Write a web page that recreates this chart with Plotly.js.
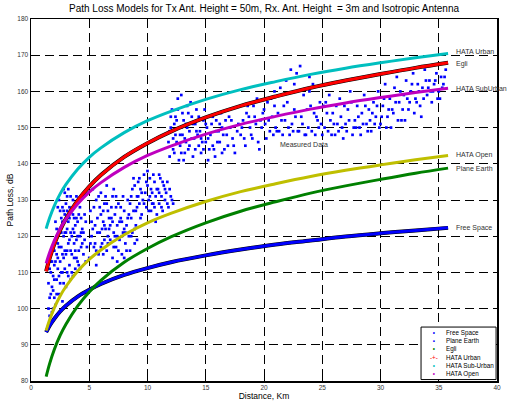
<!DOCTYPE html>
<html>
<head>
<meta charset="utf-8">
<script src="https://cdn.plot.ly/plotly-3.0.1.min.js"></script>
<style>
html,body{margin:0;padding:0;background:#fff;}
#chart{width:510px;height:401px;}
</style>
</head>
<body>
<div id="chart"></div>
<script>
// ---- model curves (distance in km, path loss in dB) ----
var distGrid   = [1.3,1.6,2,2.5,3,4,5,6,8,10,12,15,18,21,24,27,30,33,35.8];
var hataUrban  = [122.1,125.1,128.4,131.7,134.3,138.5,141.8,144.4,148.6,151.9,154.5,157.8,160.5,162.7,164.7,166.4,167.9,169.3,170.5];
var egli       = [110.3,113.9,117.8,121.7,124.8,129.8,133.7,136.9,141.9,145.7,148.9,152.8,156.0,158.6,161.0,163.0,164.8,166.5,167.9];
var hataSub    = [112.5,115.5,118.8,122.1,124.7,128.9,132.2,134.8,139.0,142.3,144.9,148.2,150.9,153.1,155.1,156.8,158.3,159.7,160.9];
var hataOpen   = [93.9,96.9,100.2,103.5,106.1,110.3,113.6,116.2,120.4,123.7,126.3,129.6,132.3,134.5,136.5,138.2,139.7,141.1,142.3];
var planeEarth = [81.2,84.8,88.7,92.6,95.7,100.7,104.6,107.8,112.8,116.6,119.8,123.7,126.9,129.5,131.9,133.9,135.7,137.4,138.8];
var freeSpace  = [93.5,95.3,97.2,99.2,100.8,103.3,105.2,106.8,109.3,111.2,112.8,114.7,116.3,117.7,118.8,119.9,120.8,121.6,122.3];

// ---- measured data, read as clusters of [distance, loss] ----
var measuredNear = [[1.5,100],[1.6,103],[1.5,107],[1.7,110],[1.8,99],[1.9,105],[2.0,112],[1.7,113],[2.1,101],[2.2,108],
 [2.3,118],[2.0,116],[2.4,104],[2.5,113],[2.6,125],[2.3,128],[2.7,110],[2.8,120],[2.9,132],[2.8,133],
 [3.0,106],[3.1,116],[3.2,124],[3.0,129],[3.3,112],[3.4,121],[3.5,127],[3.2,133],[3.6,109],[3.7,118],
 [3.8,123],[3.6,130],[3.9,114],[4.0,120],[4.1,126],[3.9,131],[4.2,111],[4.3,117],[4.4,122],[4.2,128],
 [4.5,115],[4.6,119],[4.7,124],[4.8,117],[2.2,115],[2.5,122],[2.8,114],[3.1,127],[3.4,108],[3.7,125],
 [4.0,113],[2.1,124],[2.4,130],[1.9,109],[2.7,102],[3.3,119],[3.5,115],[3.8,111],[4.4,118],[2.9,126],
 [3.0,121],[2.6,117],[3.6,122],[4.1,116],[2.3,111],[1.8,106],[2.0,103],[2.5,107],[3.2,118],[3.9,125],
 [2.7,128],[3.4,131],[4.3,121],[2.1,113],[1.6,98],[2.4,121],[3.1,110],[3.7,114],[4.6,126],[2.9,116],
 [1.6,111],[1.7,104],[1.8,113],[1.9,100],[2.0,108],[2.1,119],[2.2,104],[2.2,122],[2.3,114],[2.4,109],
 [2.4,117],[2.5,127],[2.6,110],[2.6,121],[2.7,115],[2.7,124],[2.8,107],[2.8,127],[2.9,111],[2.9,121],
 [3.0,115],[3.1,122],[3.1,131],[3.2,109],[3.3,125],[3.3,128],[3.4,116],[3.5,120],[3.5,110],[3.6,126],
 [3.7,121],[3.8,116],[3.8,129],[3.9,119],[4.0,124],[4.1,112],[4.2,120],[4.3,125],[4.5,121],[4.7,113]];
var measuredMid = [[5.0,114],[5.2,120],[5.1,127],[5.4,117],[5.5,123],[5.6,130],[5.3,133],[5.8,115],[5.9,121],[6.0,126],
 [6.1,118],[6.2,124],[6.3,129],[6.0,132],[6.5,116],[6.6,120],[6.7,125],[6.4,122],[6.8,119],[6.9,128],
 [7.0,114],[7.1,121],[7.2,126],[7.0,131],[7.3,117],[7.4,123],[7.5,129],[7.6,119],[7.7,125],[7.8,115],
 [7.9,121],[8.0,127],[8.1,118],[8.2,123],[8.3,130],[8.4,120],[8.5,116],[8.6,125],[8.7,121],[8.9,118],
 [9.0,123],[5.7,125],[6.3,119],[6.8,123],[7.3,128],[7.8,120],[8.3,125],[5.5,118],[6.1,122],[6.6,127],
 [7.1,117],[7.6,124],[8.0,122],[5.9,128],[6.9,125],[7.4,120],[5.2,124],[6.4,131],[7.9,131],[8.8,127],
 [5.1,118],[5.3,122],[5.4,128],[5.6,116],[5.7,121],[5.8,131],[6.0,117],[6.2,127],[6.3,123],[6.5,129],
 [6.6,118],[6.7,122],[7.0,124],[7.2,120],[7.3,131],[7.5,116],[7.7,128],[7.8,124],[8.1,121],[8.2,116],
 [8.4,126],[8.6,120],[6.5,134],[7.1,133],[5.6,112],[6.2,115],[7.4,113],[8.0,114],[8.9,122],[9.1,119]];
var measuredFar = [[8.5,129],[8.7,133],[8.8,136],[9.0,127],[9.1,131],[9.2,135],[9.3,129],[9.4,133],[9.5,126],[9.6,130],
 [9.7,137],[9.8,132],[9.9,128],[10.0,134],[10.1,130],[10.2,136],[10.3,127],[10.4,132],[10.5,129],[10.6,135],
 [10.7,131],[10.8,126],[10.9,133],[11.0,129],[11.1,136],[11.2,131],[11.3,127],[11.4,134],[11.5,130],[11.6,132],
 [11.8,128],[12.0,131],[12.2,129],[9.4,125],[10.0,138],[10.7,124],[11.0,137],[9.2,131],[10.4,129],[11.7,135],
 [8.6,131],[8.9,134],[9.1,128],[9.3,136],[9.5,132],[9.7,129],[9.9,135],[10.1,127],[10.3,133],[10.5,137],
 [10.6,128],[10.8,133],[11.0,132],[11.2,128],[11.3,135],[11.5,133],[11.7,129],[11.9,133],[12.1,130],[10.2,131]];
var measuredUpper = [[11.8,146],[12.0,150],[12.1,155],[12.3,143],[12.4,148],[12.5,152],[12.6,158],[12.8,145],[12.9,150],[13.0,154],
 [13.1,141],[13.2,147],[13.3,151],[13.4,156],[13.5,144],[13.6,149],[13.8,153],[13.9,142],[14.0,147],[14.1,151],
 [14.2,155],[14.4,145],[14.5,149],[14.6,143],[14.8,152],[15.0,146],[15.1,150],[15.2,141],[15.4,148],[15.6,153],
 [15.7,144],[15.9,149],[16.0,146],[16.2,151],[16.4,143],[16.5,148],[16.7,152],[16.9,145],[17.1,150],[17.3,147],
 [17.5,143],[17.7,149],[12.2,147],[12.7,141],[13.6,145],[14.3,148],[15.3,144],[16.1,149],[17.0,153],[12.9,159],
 [13.7,157],[12.4,153],[13.2,143],[14.7,146],[15.8,142],[16.6,144],[11.9,142],[13.0,148],[14.9,155],[16.3,154],
 [11.9,149],[12.0,153],[12.2,144],[12.3,151],[12.5,146],[12.6,155],[12.8,148],[12.9,143],[13.1,152],[13.3,146],
 [13.4,150],[13.5,154],[13.8,147],[13.9,151],[14.1,144],[14.2,149],[14.4,153],[14.6,147],[14.8,144],[15.0,151],
 [15.2,147],[15.5,151],[15.6,145],[15.9,152],[16.2,146],[16.4,150],[16.8,148],[17.2,152],[17.4,145],[17.8,151]];
var measuredBand = [[18.0,148],[18.2,152],[18.4,145],[18.6,156],[18.8,150],[19.0,147],[19.2,153],[19.4,158],[19.6,144],[19.8,150],
 [20.0,155],[20.2,147],[20.4,152],[20.6,158],[20.8,148],[21.0,150],[21.2,154],[21.4,161],[21.6,148],[21.8,152],
 [22.0,157],[22.2,148],[22.4,151],[22.6,155],[22.8,165],[23.0,149],[23.2,153],[23.4,159],[23.6,148],[23.8,150],
 [24.0,156],[24.2,162],[24.4,148],[24.6,152],[24.8,157],[25.0,148],[25.2,150],[25.4,154],[25.6,159],[25.8,148],
 [26.0,151],[26.2,156],[26.4,149],[26.6,153],[26.8,147],[27.0,151],[27.2,155],[27.4,160],[27.6,148],[27.8,152],
 [28.0,156],[28.2,150],[28.4,154],[28.6,159],[28.8,151],[29.0,155],[29.2,149],[29.4,157],[29.6,153],[29.8,160],
 [30.0,151],[30.2,156],[30.4,162],[30.6,153],[30.8,158],[31.0,155],[31.2,161],[31.4,164],[31.6,157],[31.8,152],
 [32.0,159],[32.2,163],[32.4,155],[32.6,160],[32.8,165],[33.0,158],[33.2,162],[33.4,156],[33.6,161],[33.8,166],
 [34.0,159],[34.2,163],[34.4,157],[34.6,162],[34.8,165],[35.0,160],[35.2,164],[35.4,162],[35.6,166],[22.3,166],
 [23.1,167],[21.9,163],[19.1,156],[20.5,149],[24.9,151],[26.5,158],[29.1,152],[32.9,154],[34.1,161],[27.1,149],
 [18.5,154],[21.3,149],[23.5,148],[25.7,152],[28.3,148],[30.9,150],[33.5,153],[35.1,158],[19.7,152],[20.9,156],
 [22.5,149],[24.3,154],[26.1,148],[27.9,150],[29.5,151],[31.1,154],[32.5,157],[34.5,160],[26.9,156],[25.3,157],
 [18.1,150],[18.3,147],[18.7,153],[18.9,148],[19.3,151],[19.5,146],[19.9,154],[20.1,151],[20.3,157],[20.7,153],
 [21.1,149],[21.5,152],[21.7,156],[22.1,150],[22.7,153],[22.9,149],[23.3,151],[23.7,155],[23.9,160],[24.1,149],
 [24.5,153],[24.7,150],[25.1,156],[25.5,149],[25.9,154],[26.3,151],[26.7,150],[27.3,152],[27.5,157],[27.7,150],
 [28.1,153],[28.5,151],[28.7,156],[28.9,149],[29.3,154],[29.7,156],[29.9,150],[30.1,153],[30.3,158],[30.5,150],
 [30.7,155],[31.3,157],[31.5,152],[31.7,160],[31.9,155],[32.1,152],[32.3,158],[32.7,162],[33.1,157],[33.3,160],
 [33.7,158],[33.9,163],[34.3,160],[34.7,163],[34.9,158],[35.3,161],[35.5,164],[23.9,164],[22.6,162],[20.9,160]];

// ---- legend and label texts ----
var legendNames = ['Free Space','Plane Earth','Egli','HATA Urban','HATA Sub-Urban','HATA Open'];
var legendGlyphs = ['<span style="color:#0000ff">•</span>','<span style="color:#0000ff">▪</span>',
  '<span style="color:#008000">•</span>','<span style="color:#ff0000">-+-</span>',
  '<span style="color:#00bfbf">•</span>','<span style="color:#bf00bf">•</span>'];
var curveLabels = ['HATA Urban','Egli','HATA SubUrban','HATA Open','Plane Earth','Free Space'];
var curveLabelY = [170.9,167.6,160.7,142.4,138.6,122.3];

var measured = [].concat(measuredNear, measuredMid, measuredFar, measuredUpper, measuredBand);

function curve(y, color, w){
  return {x: distGrid, y: y, mode:'lines', line:{color:color, width:w, shape:'spline'}, showlegend:false, hoverinfo:'skip'};
}
var traces = [
  {x: measured.map(function(p){return p[0];}), y: measured.map(function(p){return p[1];}),
   mode:'markers', marker:{color:'#0000ff', size:2.7, symbol:'square'}, showlegend:false, hoverinfo:'skip'},
  curve(freeSpace,'#000000',4.0), curve(freeSpace,'#0000ff',3.0),
  curve(planeEarth,'#008000',3.0),
  curve(hataOpen,'#bfbf00',3.0),
  curve(egli,'#000000',4.0), curve(egli,'#ff0000',3.0),
  curve(hataSub,'#bf00bf',3.0),
  curve(hataUrban,'#00bfbf',3.0)
];

var annotations = curveLabels.map(function(t,i){
  return {x:36.3, y:curveLabelY[i], xref:'x', yref:'y', text:t, showarrow:false, xanchor:'left', yanchor:'middle',
          font:{size:7, color:'#333'}};
});
annotations.push({x:23.4, y:145.2, xref:'x', yref:'y', text:'Measured Data', showarrow:false,
  font:{size:7, color:'#333'}});
annotations.push({x:0.865, y:0.076, xref:'paper', yref:'paper', text:legendGlyphs.join('<br>'), showarrow:false,
  xanchor:'center', yanchor:'middle', font:{size:6.3, color:'#000'}});
annotations.push({x:0.886, y:0.076, xref:'paper', yref:'paper', text:legendNames.join('<br>'), showarrow:false,
  xanchor:'left', yanchor:'middle', align:'left', font:{size:6.3, color:'#000'}});

var axisCommon = {showline:true, linecolor:'#000', linewidth:1.5, mirror:'ticks', ticks:'inside', ticklen:3,
  tickcolor:'#000', showgrid:true, gridcolor:'#000', gridwidth:1, griddash:'9px,5px', zeroline:false,
  tickfont:{size:6.5, color:'#333'}};

var layout = {
  width:510, height:401,
  margin:{l:31, r:13, t:19, b:20},
  paper_bgcolor:'#fff', plot_bgcolor:'#fff',
  font:{family:'"Liberation Sans", Arial, sans-serif', color:'#000'},
  title:{text:'Path Loss Models for Tx Ant. Height = 50m, Rx. Ant. Height  = 3m and Isotropic Antenna',
    font:{size:10, color:'#000'}, x:0.5, xref:'paper', y:0.978, yref:'container', yanchor:'middle'},
  xaxis: Object.assign({}, axisCommon, {range:[0,40], dtick:5, tick0:0,
    title:{text:'Distance, Km', font:{size:8.5}, standoff:0}}),
  yaxis: Object.assign({}, axisCommon, {range:[80,180], dtick:10, tick0:80,
    title:{text:'Path Loss, dB', font:{size:8.5}, standoff:2}}),
  showlegend:false,
  shapes:[{type:'rect', xref:'paper', yref:'paper', x0:0.837, x1:0.998, y0:0.004, y1:0.149,
    line:{color:'#000', width:1}, fillcolor:'#fff', layer:'above'}],
  annotations: annotations
};

Plotly.newPlot('chart', traces, layout, {staticPlot:true, displayModeBar:false});
</script>
</body>
</html>
